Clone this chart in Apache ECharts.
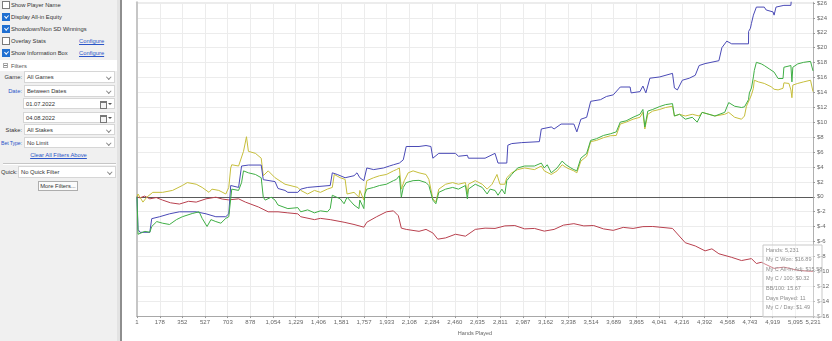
<!DOCTYPE html>
<html><head><meta charset="utf-8">
<script src="https://cdn.jsdelivr.net/npm/echarts@6/dist/echarts.min.js"></script>
<style>
html,body{margin:0;padding:0;width:832px;height:341px;overflow:hidden;background:#fff;font-family:"Liberation Sans",Arial,sans-serif;}
#panel{position:absolute;left:0;top:0;width:117px;height:341px;background:#f0f0f0;font-size:5.8px;color:#333;}
#sep1{position:absolute;left:117px;top:0;width:3px;height:341px;background:#e3e3e3;}
#sep2{position:absolute;left:120px;top:0;width:2px;height:341px;background:#8e8e8e;}
#chart{position:absolute;left:122px;top:0;width:710px;height:341px;}
.row{position:absolute;left:11px;height:10px;line-height:10px;white-space:nowrap;}
.cb{position:absolute;left:2px;width:6px;height:6px;border:1px solid #7a7a7a;background:#fff;box-sizing:content-box;}
.cb.on{background:#1f6fd1;border-color:#1f6fd1;}
.cb.on::after{content:'';position:absolute;left:1.8px;top:0.2px;width:1.6px;height:3.4px;border:solid #fff;border-width:0 1px 1px 0;transform:rotate(45deg);}
.link{position:absolute;left:79px;height:10px;line-height:10px;color:#2a55c8;text-decoration:underline;white-space:nowrap;}
.lbl{position:absolute;right:95px;height:12px;line-height:12px;white-space:nowrap;text-align:right;}
.blue{color:#2a55c8;}
.dd{position:absolute;left:24px;width:91px;background:#fff;border:1px solid #d6d6d6;box-sizing:border-box;white-space:nowrap;padding-left:2px;}
.chev{position:absolute;right:4px;width:2.5px;height:2.5px;border:solid #888;border-width:0 1px 1px 0;transform:rotate(45deg);}
.cal{position:absolute;right:7px;width:5px;height:5px;border:1px solid #777;border-top-width:2px;background:#f4f4f4;}
.tri{position:absolute;right:2px;width:0;height:0;border-left:2px solid transparent;border-right:2px solid transparent;border-top:2px solid #555;}
</style></head>
<body>
<div id="panel">
  <div class="cb" style="top:1px"></div><div class="row" style="top:0px">Show Player Name</div>
  <div class="cb on" style="top:13px"></div><div class="row" style="top:12px">Display All-in Equity</div>
  <div class="cb on" style="top:25px"></div><div class="row" style="top:24px">Showdown/Non SD Winnings</div>
  <div class="cb" style="top:37px"></div><div class="row" style="top:36px">Overlay Stats</div>
  <div class="link" style="top:36px">Configure</div>
  <div class="cb on" style="top:49px"></div><div class="row" style="top:48px">Show Information Box</div>
  <div class="link" style="top:48px">Configure</div>

  <div style="position:absolute;left:0;top:60px;width:117px;height:11px;background:#fff;"></div>
  <div style="position:absolute;left:3px;top:63px;width:3px;height:3px;border:1px solid #aaa;"></div>
  <div style="position:absolute;left:4px;top:65px;width:3px;height:0.8px;background:#888;"></div>
  <div class="row" style="top:60.5px;left:11px;color:#555;">Filters</div>

  <div class="lbl" style="top:71px">Game:</div>
  <div class="dd" style="top:71px;height:12px;line-height:11px;">All Games<div class="chev" style="top:3px"></div></div>
  <div class="lbl blue" style="top:85px">Date:</div>
  <div class="dd" style="top:85px;height:12px;line-height:11px;">Between Dates<div class="chev" style="top:3px"></div></div>
  <div class="dd" style="top:98px;height:11px;line-height:10px;left:23px;width:92px;">01.07.2022<div class="cal" style="top:1.5px"></div><div class="tri" style="top:4px"></div></div>
  <div class="dd" style="top:112px;height:11px;line-height:10px;left:23px;width:92px;">04.08.2022<div class="cal" style="top:1.5px"></div><div class="tri" style="top:4px"></div></div>
  <div class="lbl" style="top:123.5px">Stake:</div>
  <div class="dd" style="top:124px;height:11px;line-height:10px;">All Stakes<div class="chev" style="top:3px"></div></div>
  <div class="lbl blue" style="top:137px;font-size:5.2px;letter-spacing:-0.1px;">Bet Type:</div>
  <div class="dd" style="top:137px;height:11px;line-height:10px;">No Limit<div class="chev" style="top:3px"></div></div>
  <div style="position:absolute;left:0;top:150px;width:117px;height:10px;line-height:10px;text-align:center;color:#2a55c8;text-decoration:underline;">Clear All Filters Above</div>
  <div style="position:absolute;left:3px;top:163px;width:113px;height:1px;background:#c6c6c6;"></div>
  <div style="position:absolute;left:3px;top:164px;width:113px;height:1px;background:#fff;"></div>
  <div style="position:absolute;left:1px;top:166px;height:12px;line-height:12px;">Quick:</div>
  <div class="dd" style="top:166px;left:18px;width:98px;height:12px;line-height:11px;">No Quick Filter<div class="chev" style="top:3px"></div></div>
  <div style="position:absolute;left:38px;top:181px;width:40px;height:10px;line-height:9px;box-sizing:border-box;border:1px solid #adadad;background:#fbfbfb;text-align:center;white-space:nowrap;">More Filters...</div>
</div>
<div id="sep1"></div><div id="sep2"></div>
<div id="chart"></div>
<script>
// x-axis tick labels (hands)
const handTicks = [1,178,352,527,703,878,1054,1229,1406,1581,1757,1933,2108,2284,2460,2635,2811,2987,3162,3338,3514,3689,3865,4041,4216,4392,4568,4743,4919,5095,5231];

// Showdown winnings (blue) [hand, $]
const showdownWon = [[1,0],[9,-4.37],[24,-4.76],[100,-4.76],[115,-2.93],[176,-2.67],[253,-2.28],[329,-2.01],[459,-2.01],[535,-2.28],[611,-2.67],[688,-2.67],[711,-2.28],[726,1.52],[787,1.26],[810,4.13],[863,4.26],[962,4.26],[978,2.30],[1069,2.04],[1092,1.12],[1146,0.86],[1168,0.60],[1245,0.60],[1268,1.03],[1321,1.26],[1496,1.52],[1512,3.22],[1550,3.00],[1611,2.56],[1680,2.83],[1703,3.22],[1725,2.56],[1756,2.17],[1779,3.87],[1832,3.65],[1909,3.87],[1954,4.13],[1985,4.30],[2031,4.53],[2061,4.96],[2084,6.75],[2183,6.75],[2237,6.88],[2275,6.75],[2290,5.18],[2336,5.83],[2465,5.83],[2488,5.44],[2557,5.57],[2565,5.18],[2694,5.18],[2771,5.83],[2794,4.53],[2862,4.53],[2870,6.92],[2900,7.14],[2977,7.27],[3114,7.40],[3129,9.10],[3206,9.37],[3228,9.10],[3282,9.76],[3381,9.76],[3404,8.71],[3435,10.41],[3480,10.67],[3511,12.81],[3587,13.03],[3633,13.46],[3686,13.68],[3740,14.73],[3816,14.73],[3824,13.94],[3892,14.11],[3915,14.86],[3938,13.94],[3969,15.91],[4045,16.08],[4144,16.56],[4159,14.60],[4182,14.34],[4220,15.64],[4274,15.91],[4320,16.30],[4350,17.61],[4396,17.87],[4503,18.26],[4526,20.00],[4564,20.88],[4602,20.52],[4732,20.52],[4733,22.18],[4747,22.62],[4755,23.27],[4770,24.37],[4793,25.45],[4854,25.45],[4869,25.06],[4922,24.80],[4930,24.37],[4945,25.45],[5006,25.68],[5060,25.68],[5068,27.5],[5140,27.2],[5231,27.0]];

// Net won (green)
const netWon = [[1,0],[9,-5.02],[24,-5.02],[62,-4.63],[100,-4.76],[115,-3.98],[154,-3.32],[199,-3.54],[253,-3.71],[306,-3.06],[352,-2.67],[428,-2.24],[482,-2.01],[505,-2.89],[543,-3.98],[573,-3.06],[611,-3.32],[650,-3.54],[688,-2.89],[711,-2.67],[726,-0.27],[734,1.03],[787,0.86],[810,1.91],[825,3.48],[863,3.22],[917,3.00],[962,2.56],[978,-0.05],[993,-0.44],[1039,-0.05],[1069,-0.44],[1092,-1.10],[1168,-1.58],[1245,-1.45],[1268,-2.01],[1321,-1.75],[1374,-2.15],[1420,-1.88],[1474,-2.01],[1496,-1.58],[1512,0.21],[1573,-0.27],[1603,-0.93],[1626,-0.05],[1680,-1.10],[1718,-1.58],[1725,-0.44],[1756,-1.58],[1764,0.38],[1779,1.03],[1832,1.26],[1878,1.52],[1931,1.69],[1985,2.17],[2008,2.34],[2031,2.83],[2046,-0.05],[2061,1.26],[2084,1.91],[2137,2.17],[2183,2.21],[2237,1.91],[2259,1.52],[2290,-0.44],[2313,-0.93],[2336,0.60],[2389,1.03],[2443,1.26],[2488,1.03],[2542,1.52],[2557,-0.27],[2565,1.03],[2618,1.69],[2672,1.26],[2710,0.38],[2733,1.03],[2771,0.86],[2794,0.21],[2824,1.03],[2847,0.38],[2862,2.17],[2900,3.00],[2946,3.87],[3000,4.13],[3076,4.13],[3129,4.53],[3152,3.87],[3175,4.30],[3206,3.22],[3251,3.87],[3290,4.79],[3320,4.30],[3358,3.87],[3381,3.65],[3404,3.48],[3435,5.18],[3480,5.83],[3511,7.57],[3557,7.80],[3610,8.23],[3663,8.45],[3709,8.71],[3740,10.02],[3785,10.19],[3839,10.67],[3892,11.07],[3915,11.72],[3930,9.37],[3953,11.50],[3991,11.72],[4045,12.11],[4091,12.37],[4144,12.50],[4159,10.84],[4198,11.07],[4243,10.41],[4297,10.67],[4335,10.02],[4373,11.33],[4426,11.07],[4472,10.84],[4548,11.33],[4579,12.64],[4625,12.15],[4678,11.98],[4701,12.07],[4732,13.03],[4739,13.94],[4755,14.60],[4770,16.08],[4777,16.95],[4793,18.04],[4831,17.83],[4854,17.61],[4892,17.17],[4930,16.73],[4961,15.87],[4999,15.87],[5006,17.38],[5060,17.61],[5068,15.42],[5075,17.38],[5113,17.83],[5159,18.04],[5212,18.17],[5231,16.89]];

// All-in adjusted (yellow)
const allInAdj = [[1,0],[9,0.38],[24,0.21],[47,-0.71],[77,-0.05],[123,0.60],[199,0.60],[276,0.86],[352,1.52],[390,1.91],[459,1.69],[505,1.26],[558,0.60],[581,1.03],[634,0.86],[688,0.38],[711,1.26],[726,3.87],[734,4.30],[787,4.13],[825,6.10],[848,8.06],[863,6.10],[917,5.83],[962,5.18],[978,2.83],[1016,3.48],[1069,2.56],[1146,1.69],[1245,1.26],[1268,0.86],[1321,0.38],[1374,0.86],[1420,0.60],[1474,1.03],[1512,1.26],[1527,3.00],[1573,2.56],[1611,2.34],[1626,0.38],[1680,0.60],[1718,-0.05],[1725,0.86],[1756,-0.44],[1779,2.17],[1832,2.56],[1878,2.83],[1931,3.00],[1985,3.48],[2008,3.65],[2031,3.87],[2046,1.03],[2069,2.17],[2099,3.22],[2137,3.48],[2183,3.22],[2237,3.00],[2259,2.34],[2290,-0.27],[2313,-0.71],[2336,1.03],[2389,1.69],[2443,1.91],[2488,1.69],[2542,1.91],[2557,0.38],[2565,1.69],[2618,2.17],[2672,1.69],[2710,1.03],[2748,1.69],[2786,3.00],[2809,1.69],[2847,1.69],[2862,2.56],[2900,3.22],[2946,3.65],[3000,3.87],[3076,3.65],[3129,4.13],[3152,3.48],[3206,3.00],[3251,3.48],[3290,4.30],[3328,3.87],[3381,3.48],[3404,3.22],[3435,4.79],[3480,5.44],[3511,7.40],[3557,7.57],[3610,7.93],[3663,8.19],[3709,8.23],[3740,9.76],[3785,10.02],[3839,10.41],[3892,10.67],[3915,11.33],[3930,9.10],[3953,11.07],[3991,11.50],[4045,11.72],[4091,11.98],[4144,12.15],[4159,10.84],[4198,11.07],[4243,10.84],[4297,11.07],[4350,10.84],[4373,11.33],[4426,11.07],[4472,10.84],[4548,11.07],[4579,11.33],[4625,10.67],[4678,10.41],[4701,10.84],[4716,12.15],[4739,13.03],[4755,13.68],[4770,14.56],[4777,15.64],[4808,15.42],[4854,15.21],[4907,14.77],[4930,14.43],[4961,14.34],[4999,14.56],[5006,15.29],[5045,15.21],[5060,14.34],[5068,13.29],[5075,14.99],[5113,15.21],[5159,15.42],[5212,15.64],[5231,14.11]];

// Non-showdown winnings (red)
const nonShowdownWon = [[1,0],[24,-0.14],[60,0.1],[100,-0.27],[150,-0.1],[199,-0.44],[260,-0.8],[329,-0.97],[400,-0.6],[459,-0.71],[535,-0.27],[611,-0.05],[660,-0.3],[711,-0.41],[787,-0.27],[840,-0.71],[940,-1.36],[1016,-2.01],[1092,-2.01],[1168,-2.15],[1245,-2.28],[1268,-2.67],[1374,-3.06],[1420,-2.89],[1496,-3.06],[1603,-3.41],[1680,-3.71],[1756,-4.07],[1779,-3.41],[1855,-2.67],[1931,-2.01],[1985,-1.88],[2023,-2.54],[2046,-4.20],[2084,-4.37],[2183,-4.63],[2237,-4.37],[2290,-4.85],[2328,-5.68],[2389,-5.51],[2465,-5.02],[2542,-5.28],[2618,-4.37],[2694,-4.20],[2771,-4.24],[2847,-3.9],[2924,-3.85],[3000,-4.3],[3076,-4.24],[3152,-4.6],[3228,-4.37],[3300,-3.8],[3381,-3.6],[3458,-3.9],[3534,-3.85],[3610,-4.3],[3686,-4.5],[3763,-4.1],[3839,-4.24],[3915,-4.0],[3991,-3.98],[4144,-4.24],[4243,-6.16],[4320,-6.59],[4396,-7.25],[4449,-6.98],[4503,-7.64],[4602,-8.12],[4678,-8.55],[4755,-8.29],[4793,-8.95],[4831,-8.78],[4930,-9.60],[5006,-9.43],[5113,-9.86],[5212,-9.99],[5231,-9.99]];

const infoLines = ["Hands: 5,231","My C Won: $16.89","My C All-In Adj: $15.58","My C / 100: $0.32","BB/100: 15.67","Days Played: 11","My C / Day: $1.49"];

const chart = echarts.init(document.getElementById('chart'), null, {renderer:'canvas'});
const fmtHands = v => Math.round(v).toLocaleString('en-US');
function lineSeries(name, data, color, extra){
  return Object.assign({name, type:'line', data, showSymbol:false, symbol:'none', yAxisIndex:0,
    lineStyle:{color, width:1}, itemStyle:{color}, clip:true, silent:true}, extra||{});
}
const infoGraphics = [{type:'rect', shape:{x:641, y:245, width:59, height:72},
  style:{fill:'rgba(255,255,255,0.35)', stroke:'#c9c9c9', lineWidth:1}, z:100}];
infoLines.forEach((t,i)=>infoGraphics.push({type:'text', x:644, y:250+i*9.6, z:101,
  style:{text:t, fill:'#8c8c8c', font:'5.5px "Liberation Sans", Arial, sans-serif', verticalAlign:'middle'}}));

chart.setOption({
  animation:false,
  grid:{left:15, right:10, top:0, bottom:19, containLabel:false},
  xAxis:{type:'value', min:1, max:5231, name:'Hands Played', nameLocation:'middle', nameGap:11,
    nameTextStyle:{fontSize:5.5, color:'#666', fontFamily:'Liberation Sans'},
    axisLine:{onZero:false, lineStyle:{color:'#a8a8a8', width:1}},
    axisTick:{show:true, length:2, customValues:handTicks, lineStyle:{color:'#999'}},
    axisLabel:{customValues:handTicks, fontSize:6, color:'#666', margin:3, fontFamily:'Liberation Sans', formatter:fmtHands, hideOverlap:false},
    splitLine:{show:true, lineStyle:{color:'#ececec', width:1}}},
  yAxis:[
    {type:'value', position:'right', min:-16, max:26.1, interval:2,
     axisLine:{show:true, lineStyle:{color:'#b0b0b0', width:1}},
     axisTick:{show:true, length:2, lineStyle:{color:'#999'}},
     axisLabel:{fontSize:6, color:'#666', margin:4, showMaxLabel:false, fontFamily:'Liberation Sans', formatter:v=>'$'+v},
     splitLine:{show:true, lineStyle:{color:'#ececec', width:1}}},
    {type:'value', position:'left', min:-16, max:26.1, interval:2,
     axisLine:{show:true, lineStyle:{color:'#c6c6c6', width:2}},
     axisTick:{show:false}, axisLabel:{show:false}, splitLine:{show:false}}
  ],
  series:[
    lineSeries('Non-Showdown Winnings', nonShowdownWon, '#b8404e', {
      markLine:{silent:true, symbol:'none', label:{show:false}, lineStyle:{color:'#5a5a5a', width:1, type:'solid'}, data:[{yAxis:0}], z:1}}),
    lineSeries('All-in Adjusted', allInAdj, '#c6be3c'),
    lineSeries('Showdown Winnings', showdownWon, '#4a4ab6'),
    lineSeries('Net Won', netWon, '#3fae45')
  ],
  graphic: infoGraphics
});
</script>
</body></html>
